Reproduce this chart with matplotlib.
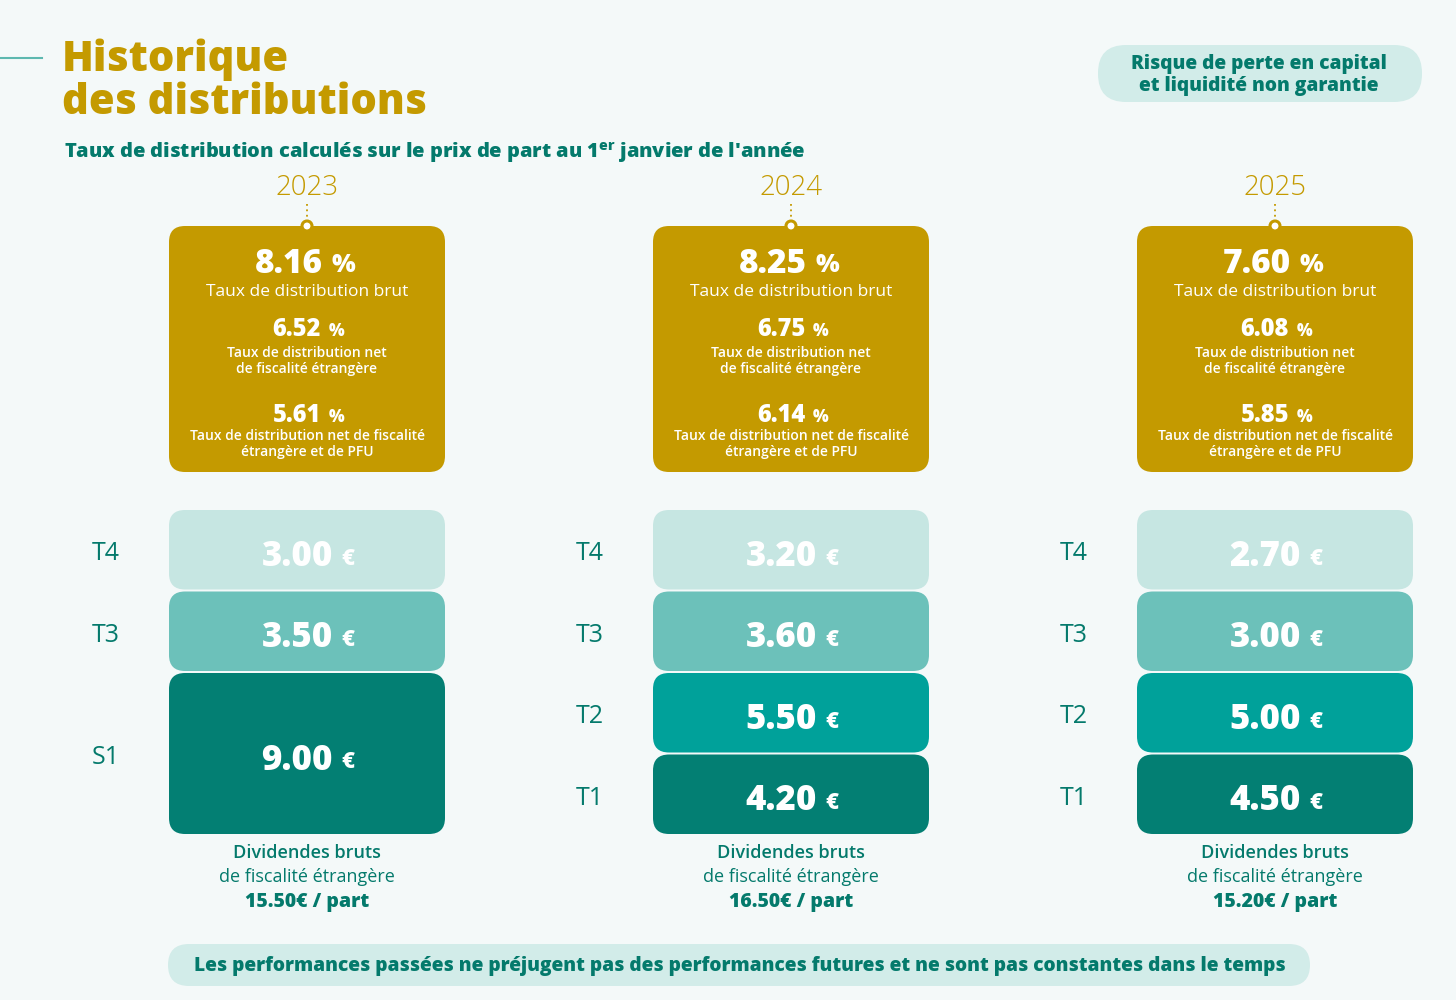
import matplotlib
matplotlib.use("Agg")
import matplotlib.pyplot as plt
from matplotlib.patches import FancyBboxPatch, Circle

years = ["2023", "2024", "2025"]
gross_rate = [8.16, 8.25, 7.60]
net_foreign_rate = [6.52, 6.75, 6.08]
net_pfu_rate = [5.61, 6.14, 5.85]
periods = [["S1", "T3", "T4"],
           ["T1", "T2", "T3", "T4"],
           ["T1", "T2", "T3", "T4"]]
amounts = [[9.00, 3.50, 3.00],
           [4.20, 5.50, 3.60, 3.20],
           [4.50, 5.00, 3.00, 2.70]]
totals = [15.50, 16.50, 15.20]

GOLD = "#C49A00"
TEAL_TXT = "#047A6C"
PILL = "#D2ECE9"
period_colors = {"S1": "#037F73", "T1": "#037F73", "T2": "#00A19A",
                 "T3": "#6CC1BA", "T4": "#C6E6E2"}

plt.rcParams["font.family"] = ["Open Sans", "DejaVu Sans"]
HEAVY = 800

fig = plt.figure(figsize=(14.56, 10), dpi=100)
fig.patch.set_facecolor("#F4F9F9")
ax = fig.add_axes([0, 0, 1, 1])
ax.set_xlim(0, 1456)
ax.set_ylim(1000, 0)
ax.axis("off")


def rbox(x0, y0, w, h, color, r=16):
    ax.add_patch(FancyBboxPatch((x0, y0), w, h,
                                boxstyle=f"round,pad=0,rounding_size={r}",
                                fc=color, ec="none", zorder=2))


def value_unit(cx, y, num, unit, size, usize, gap=6, color="white"):
    ax.text(cx, y, num, ha="right", va="center", fontsize=size,
            fontweight=HEAVY, color=color, zorder=4)
    ax.text(cx + gap, y + 2, unit, ha="left", va="center", fontsize=usize,
            fontweight=HEAVY, color=color, zorder=4)


# header
ax.plot([0, 42], [58, 58], color="#5DB8B0", lw=1.5)
ax.text(62, 60, "Historique", fontsize=30, fontweight=HEAVY, color=GOLD,
        va="center", ha="left")
ax.text(62, 103, "des distributions", fontsize=30, fontweight=HEAVY,
        color=GOLD, va="center", ha="left")
ax.text(64, 152, "Taux de distribution calculés sur le prix de part au 1$^{\\mathregular{er}}$ janvier de l'année",
        fontsize=14.4, fontweight=HEAVY, color=TEAL_TXT, va="center", ha="left")

rbox(1098, 45, 324, 57, PILL, r=28)
ax.text(1259, 75, "Risque de perte en capital\net liquidité non garantie",
        fontsize=13.8, fontweight=HEAVY, color=TEAL_TXT, ha="center",
        va="center", linespacing=1.1)

col_centers = [307, 791, 1275]
box_w = 276
slot_h = 81.5
stack_bottom = 835

for i, cx in enumerate(col_centers):
    x0 = cx - box_w / 2
    # year + connector
    ax.text(cx, 188, years[i], fontsize=20, fontweight="light", color=GOLD,
            ha="center", va="center")
    ax.plot([cx, cx], [204, 221], color=GOLD, lw=1.3, ls=(0, (1, 2)), zorder=3)
    ax.add_patch(Circle((cx, 226), 5, fc="white", ec=GOLD, lw=2.2, zorder=5))

    # rate box
    rbox(x0, 226, box_w, 246, GOLD, r=16)
    value_unit(cx + 16, 264, f"{gross_rate[i]:.2f}", "%", 24, 18, gap=9)
    ax.text(cx, 292, "Taux de distribution brut", fontsize=12.5, color="white",
            ha="center", va="center", fontweight="normal", zorder=4)
    value_unit(cx + 14, 330, f"{net_foreign_rate[i]:.2f}", "%", 17, 12, gap=8)
    ax.text(cx, 361, "Taux de distribution net\nde fiscalité étrangère",
            fontsize=10, color="white", ha="center", va="center",
            fontweight="semibold", linespacing=1.15, zorder=4)
    value_unit(cx + 14, 415, f"{net_pfu_rate[i]:.2f}", "%", 17, 12, gap=8)
    ax.text(cx, 444, "Taux de distribution net de fiscalité\nétrangère et de PFU",
            fontsize=10, color="white", ha="center", va="center",
            fontweight="semibold", linespacing=1.1, zorder=4)

    # dividend stack, bottom-up
    y_bot = stack_bottom
    for p, a in zip(periods[i], amounts[i]):
        n = 2 if p.startswith("S") else 1
        h = n * slot_h
        y_top = y_bot - h
        rbox(x0, y_top + 1, box_w, h - 2, period_colors[p], r=16)
        yc = (y_top + y_bot) / 2
        value_unit(cx + 26, yc + 7, f"{a:.2f}", "€", 25, 16, gap=8)
        ax.text(cx - 201, yc + 4, p, fontsize=18, fontweight="normal",
                color=TEAL_TXT, ha="center", va="center")
        y_bot = y_top

    # caption
    ax.text(cx, 853, "Dividendes bruts", fontsize=13, color=TEAL_TXT,
            ha="center", va="center", fontweight="semibold")
    ax.text(cx, 877, "de fiscalité étrangère", fontsize=13, color=TEAL_TXT,
            ha="center", va="center", fontweight="normal")
    ax.text(cx, 902, f"{totals[i]:.2f}€ / part", fontsize=14, color=TEAL_TXT,
            ha="center", va="center", fontweight=HEAVY)

# footer disclaimer
rbox(168, 944, 1142, 42, PILL, r=21)
ax.text(740, 966, "Les performances passées ne préjugent pas des performances futures et ne sont pas constantes dans le temps",
        fontsize=13.8, fontweight=HEAVY, color=TEAL_TXT, ha="center", va="center")

fig.savefig("out.png", dpi=100, facecolor=fig.get_facecolor())
